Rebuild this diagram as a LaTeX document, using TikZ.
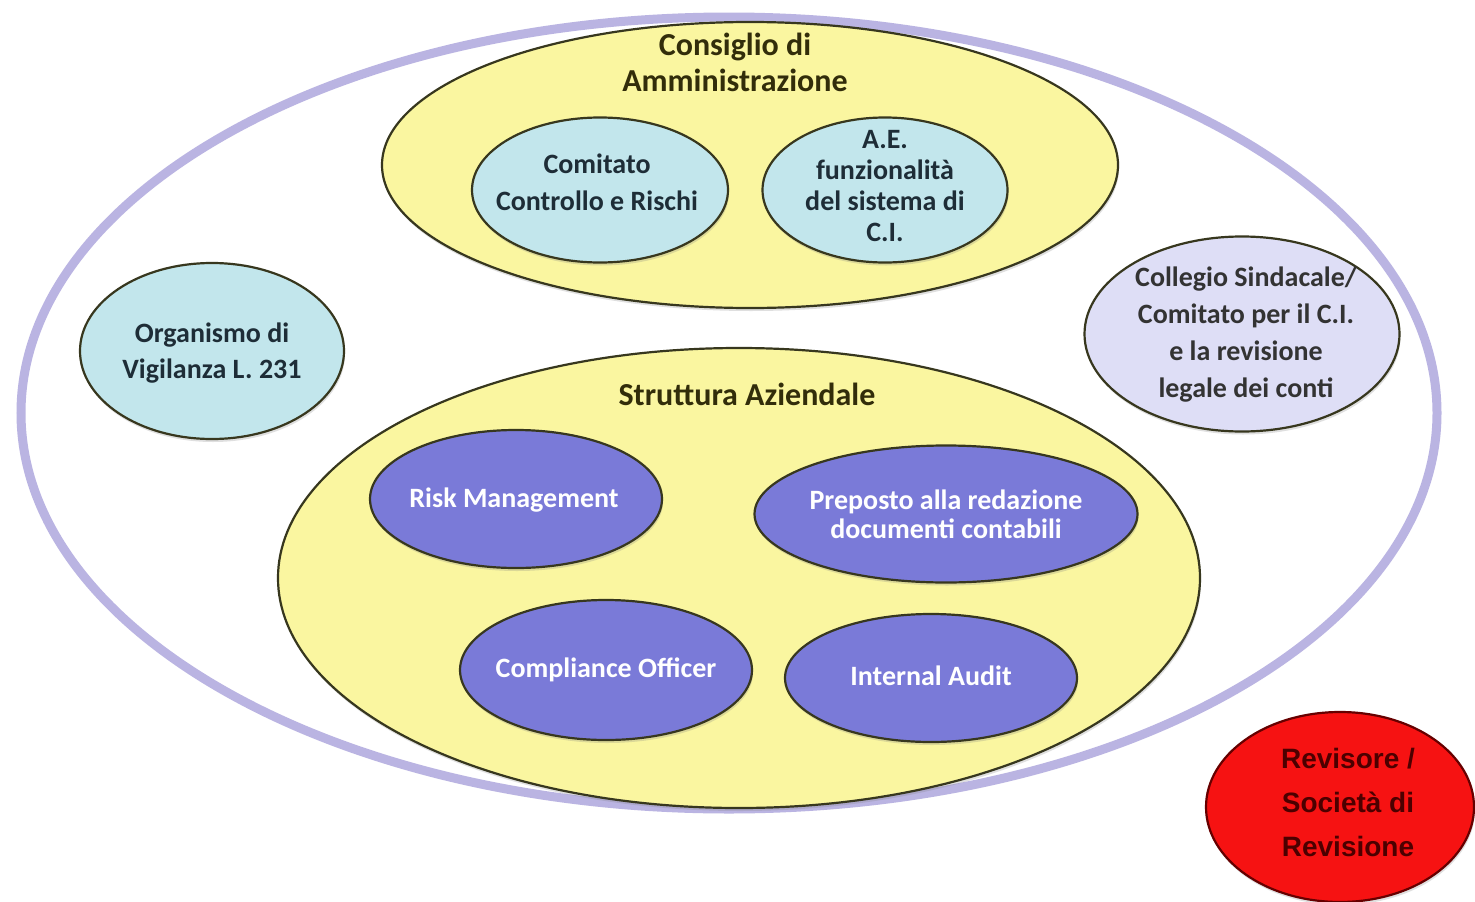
\documentclass[tikz,border=0pt]{standalone}
\usepackage{fontspec}
\setmainfont{Carlito}
\newfontfamily\arialfont{Liberation Sans}
\usetikzlibrary{shapes.geometric,positioning,shadows}

\definecolor{banda}{RGB}{186,180,226}
\definecolor{giallo}{RGB}{250,246,160}
\definecolor{bordo}{RGB}{55,55,30}
\definecolor{azzurro}{RGB}{194,230,236}
\definecolor{lilla}{RGB}{222,222,246}
\definecolor{viola}{RGB}{122,122,216}
\definecolor{rosso}{RGB}{246,18,18}
\definecolor{oliva}{RGB}{50,45,10}
\definecolor{ardesia}{RGB}{30,45,55}

\tikzset{
  ovale/.style={ellipse, draw=bordo, line width=2.2pt, inner sep=0pt,
    drop shadow={opacity=0.25, shadow xshift=1pt, shadow yshift=-3pt}},
  contenitore/.style={ovale, fill=giallo},
  organo/.style={ovale, fill=azzurro},
  funzione/.style={ovale, fill=viola},
  titolo/.style={align=center, text=oliva, font=\bfseries\fontsize{32}{36}\selectfont},
  testoorgano/.style={align=center, text=ardesia, font=\bfseries\fontsize{28}{37}\selectfont},
  testofunzione/.style={align=center, text=white, font=\bfseries\fontsize{28}{29}\selectfont},
}

\begin{document}
\begin{tikzpicture}[x=1pt,y=-1pt]
\fill[white] (0,0) rectangle (1475,902);
\useasboundingbox (0,0) rectangle (1475,902);
% perimetro del sistema di controllo interno
\draw[banda, line width=9pt] (729,413) ellipse [x radius=708, y radius=396];

% Consiglio di Amministrazione
\node[contenitore, minimum width=736pt, minimum height=286pt] (cda) at (750,165) {};
\node[titolo] (cda titolo) at (735,62) {Consiglio di\\Amministrazione};
\node[organo, minimum width=256pt, minimum height=145pt] (ccr) at (600,190) {};
\node[testoorgano] (ccr testo) at (597,182) {Comitato\\Controllo e Rischi};
\node[organo, minimum width=245pt, minimum height=145pt] (ae) at (885,190) {};
\node[testoorgano, font=\bfseries\fontsize{28}{31}\selectfont] (ae testo) at (885,186) {A.E.\\funzionalità\\del sistema di\\C.I.};

% organi esterni alla struttura
\node[organo, minimum width=264pt, minimum height=176pt] (odv) at (212,351) {};
\node[testoorgano, font=\bfseries\fontsize{28}{36}\selectfont] (odv testo) at (212,353) {Organismo di\\Vigilanza L. 231};
\node[organo, fill=lilla, minimum width=315pt, minimum height=195pt] (cs) at (1242,334) {};
\node[testoorgano, text=black!80] (cs testo) at (1246,335) {Collegio Sindacale/\\Comitato per il C.I.\\e la revisione\\legale dei conti};

% Struttura Aziendale
\node[contenitore, minimum width=922pt, minimum height=460pt] (sa) at (739,578) {};
\node[titolo] (sa titolo) at (747,394) {Struttura Aziendale};
\node[funzione, minimum width=292pt, minimum height=138pt] (rm) at (516,499) {};
\node[testofunzione] (rm testo) at (514,500) {Risk Management};
\node[funzione, minimum width=383pt, minimum height=137pt] (pdc) at (946,514) {};
\node[testofunzione] (pdc testo) at (946,514) {Preposto alla redazione\\documenti contabili};
\node[funzione, minimum width=292pt, minimum height=140pt] (co) at (606,670) {};
\node[testofunzione] (co testo) at (606,670) {Compliance Officer};
\node[funzione, minimum width=292pt, minimum height=128pt] (ia) at (931,678) {};
\node[testofunzione] (ia testo) at (931,676) {Internal Audit};

% revisione esterna
\node[ovale, fill=rosso, draw=red!40!black, minimum width=268pt, minimum height=190pt] (rev) at (1340,807) {};
\node[align=center, text=red!30!black, font=\arialfont\bfseries\fontsize{28}{44}\selectfont] (rev testo) at (1348,802) {Revisore /\\Società di\\Revisione};
\end{tikzpicture}
\end{document}
